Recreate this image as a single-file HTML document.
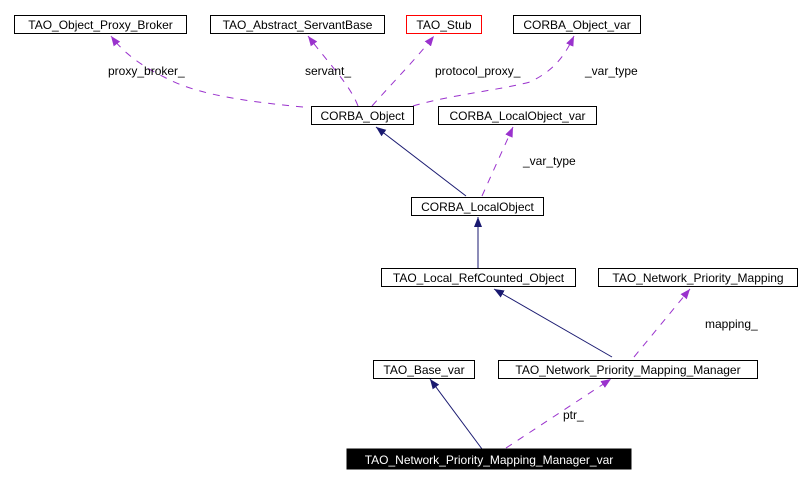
<!DOCTYPE html>
<html><head><meta charset="utf-8"><style>
html,body{margin:0;padding:0;background:#fff}
svg{display:block}
text{font-family:"Liberation Sans",Arial,sans-serif;font-size:12px}
</style></head><body>
<svg width="810" height="483" viewBox="0 0 810 483" xmlns="http://www.w3.org/2000/svg">
<defs>
<marker id="ap" viewBox="0 0 10 10" refX="10" refY="5" markerWidth="10" markerHeight="10" markerUnits="userSpaceOnUse" orient="auto"><path d="M0,1 L10,5 L0,9 z" fill="#9a32cd"/></marker>
<marker id="an" viewBox="0 0 10 10" refX="10" refY="5" markerWidth="10" markerHeight="10" markerUnits="userSpaceOnUse" orient="auto"><path d="M0,1 L10,5 L0,9 z" fill="#191970"/></marker>
</defs>
<g fill="none" stroke="#9a32cd" stroke-dasharray="7,7">
<path d="M303,107 C250,102 200,95 170,80 C145,68 125,55 111,36" marker-end="url(#ap)"/>
<path d="M358,106 C350,85 330,65 308,36" marker-end="url(#ap)"/>
<path d="M372,106 C395,80 415,60 434,36" marker-end="url(#ap)"/>
<path d="M413,106 C450,95 500,90 530,82 C555,70 565,55 574,36" marker-end="url(#ap)"/>
<path d="M482,196 L513,127" marker-end="url(#ap)"/>
<path d="M634,357 L690,289" marker-end="url(#ap)"/>
<path d="M506,448 L611,379" marker-end="url(#ap)"/>
</g>
<g fill="none" stroke="#191970">
<path d="M466,196 L376,127" marker-end="url(#an)"/>
<path d="M478,268 L478,217" marker-end="url(#an)"/>
<path d="M612,357 L494,289" marker-end="url(#an)"/>
<path d="M482,449 L430,379" marker-end="url(#an)"/>
</g>
<g fill="#fff" stroke="#000">
<rect x="14.5" y="15.5" width="172" height="18"/>
<rect x="210.5" y="15.5" width="174" height="18"/>
<rect x="406.5" y="15.5" width="75" height="18" stroke="#ff0000"/>
<rect x="513.5" y="15.5" width="127" height="18"/>
<rect x="311.5" y="106.5" width="102" height="18"/>
<rect x="438.5" y="106.5" width="158" height="18"/>
<rect x="411.5" y="197.5" width="132" height="18"/>
<rect x="381.5" y="268.5" width="194" height="18"/>
<rect x="598.5" y="268.5" width="199" height="18"/>
<rect x="373.5" y="360.5" width="101" height="18"/>
<rect x="498.5" y="360.5" width="259" height="18"/>
<rect x="347" y="449" width="284" height="20" fill="#000"/>
</g>
<g text-anchor="middle">
<text x="100.5" y="29">TAO_Object_Proxy_Broker</text>
<text x="297.5" y="29">TAO_Abstract_ServantBase</text>
<text x="444" y="29">TAO_Stub</text>
<text x="577" y="29">CORBA_Object_var</text>
<text x="362.5" y="120">CORBA_Object</text>
<text x="517.5" y="120">CORBA_LocalObject_var</text>
<text x="477.5" y="211">CORBA_LocalObject</text>
<text x="478.5" y="282">TAO_Local_RefCounted_Object</text>
<text x="698" y="282">TAO_Network_Priority_Mapping</text>
<text x="424" y="374">TAO_Base_var</text>
<text x="628" y="374">TAO_Network_Priority_Mapping_Manager</text>
<text x="489" y="464" fill="#fff">TAO_Network_Priority_Mapping_Manager_var</text>
</g>
<g>
<text x="108" y="75">proxy_broker_</text>
<text x="305" y="75">servant_</text>
<text x="435" y="75">protocol_proxy_</text>
<text x="585" y="75">_var_type</text>
<text x="523" y="165">_var_type</text>
<text x="705" y="328">mapping_</text>
<text x="563" y="419">ptr_</text>
</g>
</svg>
</body></html>
